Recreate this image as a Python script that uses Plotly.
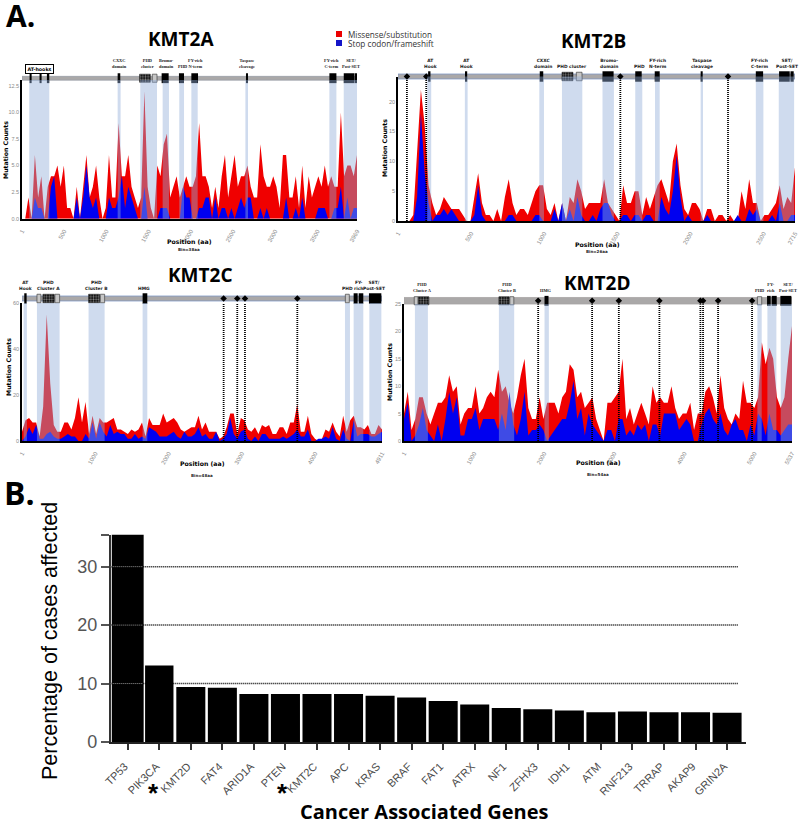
import numpy as np
import plotly.graph_objects as go

W, H = 800, 825

# ---- panel A data: mutation counts per bin ----
A_missense = [0,0,2,0,6,2,4,0,3,4,4,5,3,5,1,1,0,3,0,3,6,2,3,5,2,0,1,6,2,2,9,4,4,6,3,2,1,2,12,3,1,0,5,4,7,8,2,3,4,2,3,4,3,3,4,9,4,4,3,1,3,1,4,6,2,4,6,3,4,4,5,3,2,2,7,4,3,3,4,3,1,6,6,2,2,4,1,5,1,4,2,3,4,3,5,3,4,3,3,10,4,5,5,4,6]
A_stop = [0,0,0,0,2,1,1,0,0,3,4,0,0,0,0,0,0,2,0,2,5,2,1,2,0,0,0,2,1,1,2,4,1,3,2,1,0,0,3,0,0,0,0,1,1,1,0,0,0,0,3,2,2,0,0,1,1,2,2,0,2,0,1,1,0,1,0,1,2,1,2,2,0,0,1,0,1,0,0,0,0,0,2,0,0,1,0,2,0,0,0,0,1,1,1,0,0,1,1,3,0,2,0,1,1]
B_missense = [0,0,0,0,1,12,22,16,6,3,1,2,4,3,2,2,2,1,0,0,4,8,3,1,1,0,2,0,4,7,3,1,2,2,1,3,5,6,6,2,1,3,0,3,0,4,3,7,5,2,3,3,3,3,7,3,2,1,0,6,3,3,5,5,1,4,2,4,6,7,5,3,10,13,6,2,1,3,3,2,0,2,2,0,1,1,0,1,0,0,5,2,7,3,3,0,1,1,2,3,6,2,4,3,9]
B_stop = [0,0,0,0,0,4,18,8,3,0,1,1,2,1,2,1,0,0,0,0,1,6,1,0,0,0,0,0,0,1,1,0,0,0,0,0,1,1,0,0,0,2,0,3,0,2,0,4,1,0,0,1,0,2,3,3,1,0,0,1,1,0,1,1,0,1,1,0,0,4,2,1,5,11,4,0,1,0,0,0,0,1,0,0,0,0,0,0,0,1,0,0,2,1,2,0,0,0,1,0,3,0,0,1,1]
C_missense = [4,9,10,8,8,2,15,55,25,7,4,4,8,8,5,10,19,8,17,3,11,3,10,8,8,9,10,5,5,4,3,5,4,5,8,2,10,7,7,7,12,8,9,10,8,5,4,5,6,6,11,5,8,4,4,4,1,2,6,12,12,3,10,9,5,4,6,3,7,6,7,3,3,6,6,3,8,8,16,4,4,11,3,1,0,1,5,4,8,4,2,11,4,9,11,6,6,5,7,3,3,7,5]
C_stop = [0,2,6,3,7,1,1,3,4,2,1,1,2,3,2,2,0,0,3,1,8,1,8,4,2,7,3,4,3,3,1,1,3,1,2,1,6,5,4,2,2,2,3,4,2,1,4,2,2,3,6,2,3,1,1,4,0,1,3,10,3,1,4,5,1,0,2,0,3,3,1,1,1,1,2,1,2,3,5,2,2,5,0,0,1,1,2,1,6,1,0,5,1,0,9,2,3,3,3,2,2,3,4]
D_missense = [5,9,2,4,8,8,5,3,5,7,7,8,12,9,10,3,5,6,6,10,5,6,8,9,8,13,9,10,7,5,8,12,15,6,4,4,8,4,7,7,7,5,8,9,14,13,8,9,6,7,8,4,2,0,7,7,8,9,15,4,6,3,5,7,5,3,10,7,8,7,7,10,6,4,5,5,7,2,5,5,9,10,8,5,12,6,4,3,5,4,11,7,7,6,8,18,14,17,15,8,6,8,15,21]
D_stop = [4,7,0,1,3,6,2,1,0,3,0,4,9,5,8,1,1,4,4,6,2,4,4,4,4,2,5,2,9,3,1,4,9,1,2,2,3,2,0,1,2,3,4,4,7,11,4,6,1,5,3,2,1,0,2,2,0,4,4,1,2,1,3,2,3,0,3,3,1,5,5,5,5,2,3,4,3,0,0,3,5,6,4,3,5,2,1,3,4,2,2,0,3,1,5,4,1,5,2,2,1,2,3,3]

# protein lengths and axis ticks
A_ticks = [1,500,1000,1500,2000,2500,3000,3500,3969]
B_ticks = [1,500,1000,1500,2000,2500,2715]
C_ticks = [1,1000,2000,3000,4000,4911]
D_ticks = [1,1000,2000,3000,4000,5000,5537]
A_yticks = [0,2.5,5,7.5,10,12.5]
B_yticks = [0,5,10,15,20]
C_yticks = [0,20,40,60]
D_yticks = [0,5,10,15,20,25]

# protein domains, amino-acid start/end
A_bands = [(87,324),(1134,1169),(1402,1600),(1667,1742),(1864,1920),(2007,2082),(2647,2678),(3642,3725),(3812,3969)]
B_bands = [(201,228),(458,477),(967,999),(1122,1261),(1399,1477),(1623,1671),(1758,1790),(2070,2086),(2447,2499),(2604,2709)]
C_bands = [(23,68),(205,514),(909,1128),(1646,1710),(4406,4474),(4524,4656),(4738,4902)]
D_bands = [(157,342),(1355,1573),(2006,2068),(5043,5105),(5186,5314),(5376,5537)]
A_black = [(91,115),(209,233),(296,324),(1134,1165),(1655,1738),(1860,1920),(2007,2086),(2654,2678),(3642,3725),(3812,3938),(3942,3969)]
B_black = [(207,223),(461,474),(970,994),(1399,1475),(1623,1667),(1756,1790),(2070,2084),(2447,2497),(2606,2679),(2684,2706)]
C_black = [(32,64),(1646,1710),(4524,4579),(4593,4656),(4733,4902)]
D_black = [(2006,2063),(5181,5233),(5247,5319),(5371,5528)]
A_hatch = [(1394,1521)]
B_hatch = [(1122,1197)]
C_hatch = [(286,441),(909,1059)]
D_hatch = [(204,356),(1355,1502)]
A_grey = [(1544,1600)]
B_grey = [(1220,1259)]
C_grey = [(205,259),(450,514),(1069,1128),(4411,4465)]
D_grey = [(147,200),(1511,1568),(5043,5105)]
A_sites = []
B_sites = [62,194,1521,2257]
C_sites = [2751,2937,3042,3756]
D_sites = [1915,2685,3066,3645,4230,4268,4482,4967]

# domain captions
A_labels = [("CXXC<br>domain",119),("PHD<br>cluster",147),("Bromo-<br>domain",166),("PHD",182),("FY-rich<br>N-term",195),("Taspase<br>cleavage",247),("FY-rich<br>C-term",331),("SET/<br>Post-SET",351)]
B_labels = [("AT<br>Hook",431),("AT<br>Hook",466),("CXXC<br>domain",543),("PHD cluster",572),("Bromo-<br>domain",609),("PHD",639),("FY-rich<br>N-term",658),("Taspase<br>cleavage",702),("FY-rich<br>C-term",759),("SET/<br>Post-SET",787)]
C_labels = [("AT<br>Hook",25),("PHD<br>Cluster A",48),("PHD<br>Cluster B",96),("HMG",144),("PHD",347),("FY-<br>rich",358),("SET/<br>Post-SET",374)]
D_labels = [("PHD<br>Cluster A",422),("PHD<br>Cluster B",507),("HMG",546),("PHD",759),("FY-<br>rich",771),("SET/<br>Post-SET",788)]

# ---- panel B data ----
genes = ["TP53","PIK3CA","KMT2D","FAT4","ARID1A","PTEN","KMT2C","APC","KRAS","BRAF","FAT1","ATRX","NF1","ZFHX3","IDH1","ATM","RNF213","TRRAP","AKAP9","GRIN2A"]
percent = [35.5,13.1,9.4,9.3,8.2,8.2,8.2,8.2,7.9,7.6,7.0,6.4,5.8,5.6,5.4,5.1,5.2,5.1,5.1,5.0]
bar_widths = [1.01,0.9,0.92,0.92,0.92,0.92,0.92,0.92,0.92,0.92,0.92,0.92,0.92,0.92,0.92,0.92,0.92,0.92,0.92,0.92]
grid_levels = [10,20,30]

panels = [
    dict(name="KMT2A", miss=A_missense, stop=A_stop, ticks=A_ticks, yticks=A_yticks, bands=A_bands, black=A_black, hatch=A_hatch, grey=A_grey, sites=A_sites, labels=A_labels,
         x0=22, x1=357, y0=218.7, ytop=80, ymax=13.05, tfmt=".1f", ttop=73, tbot=83.5, trackw=0.72, label_y=71, title_xy=(181,39), xt=(189,241), bin="Bin=38aa", bin_y=250, yt=(5,150), edge="#9aa0a8", lfont="Liberation Serif"),
    dict(name="KMT2B", miss=B_missense, stop=B_stop, ticks=B_ticks, yticks=B_yticks, bands=B_bands, black=B_black, hatch=B_hatch, grey=B_grey, sites=B_sites, labels=B_labels,
         x0=398, x1=795, y0=221, ytop=76.5, ymax=24.2, tfmt="d", ttop=71, tbot=82, trackw=0.9, label_y=70.5, title_xy=(593,41), xt=(597,244), bin="Bin=26aa", bin_y=252, yt=(384,148), edge="#7f97c4", lfont="DejaVu Sans"),
    dict(name="KMT2C", miss=C_missense, stop=C_stop, ticks=C_ticks, yticks=C_yticks, bands=C_bands, black=C_black, hatch=C_hatch, grey=C_grey, sites=C_sites, labels=C_labels,
         x0=22, x1=382, y0=441, ytop=303, ymax=60, tfmt="d", ttop=293, tbot=304, trackw=0.9, label_y=293.5, title_xy=(201,275), xt=(202,464), bin="Bin=48aa", bin_y=475, yt=(8,367), edge="#7f97c4", lfont="DejaVu Sans"),
    dict(name="KMT2D", miss=D_missense, stop=D_stop, ticks=D_ticks, yticks=D_yticks, bands=D_bands, black=D_black, hatch=D_hatch, grey=D_grey, sites=D_sites, labels=D_labels,
         x0=404, x1=792, y0=441, ytop=304, ymax=25, tfmt="d", ttop=295.5, tbot=306, trackw=1.25, label_y=295, title_xy=(597,283), xt=(598,463), bin="Bin=54aa", bin_y=474, yt=(389,372), edge="#a8a4a4", lfont="Liberation Serif"),
]

RED, BLUE = "rgb(240,0,0)", "rgb(0,0,240)"
BAND = "rgba(145,172,216,0.435)"
GREYTXT = "#8a8a8a"

def px(v): return v / W
def py(v): return 1 - v / H

fig = go.Figure()
layout = {}
shapes, annos = [], []

def note(x, y, text, size, color="black", bold=False, family="Liberation Sans", angle=0, xanchor="center", yanchor="middle", **kw):
    if bold:
        text = "<b>" + text + "</b>"
    annos.append(dict(x=px(x), y=py(y), xref="paper", yref="paper", text=text, showarrow=False, textangle=angle,
                      xanchor=xanchor, yanchor=yanchor, align="center", font=dict(size=size, color=color, family=family), **kw))

for k, p in enumerate(panels):
    i = k + 1
    t = k + 5
    xa, ya, ta = ("x%d" % i).replace("x1", "x"), ("y%d" % i).replace("y1", "y"), "y%d" % t
    n = len(p["miss"])
    L = p["ticks"][-1]
    pos = np.linspace(1, L, n)
    fig.add_trace(go.Scatter(x=pos, y=p["miss"], xaxis=xa, yaxis=ya, mode="lines", line=dict(width=0, color=RED), fill="tozeroy", fillcolor=RED, showlegend=False, hoverinfo="skip"))
    fig.add_trace(go.Scatter(x=pos, y=p["stop"], xaxis=xa, yaxis=ya, mode="lines", line=dict(width=0, color=BLUE), fill="tozeroy", fillcolor=BLUE, showlegend=False, hoverinfo="skip"))
    for s in p["sites"]:
        fig.add_trace(go.Scatter(x=[s, s], y=[0, p["ymax"]], xaxis=xa, yaxis=ya, mode="lines", line=dict(color="black", width=1.8, dash="1px,1px"), showlegend=False, hoverinfo="skip", cliponaxis=False))
    fig.add_trace(go.Bar(y=[0], x=[L - 1], base=[1], width=[p["trackw"]], orientation="h", xaxis=xa, yaxis=ta,
                         marker=dict(color="#aaa8a8", line=dict(color=p["edge"], width=0.8)), showlegend=False, hoverinfo="skip"))
    def seg(items, marker, width):
        if items:
            st = [a for a, b in items]
            ln = [b - a for a, b in items]
            fig.add_trace(go.Bar(y=[0] * len(items), x=ln, base=st, width=[width] * len(items), orientation="h", xaxis=xa, yaxis=ta,
                                 marker=marker, showlegend=False, hoverinfo="skip"))
    seg(p["black"], dict(color="black", line=dict(width=0)), 1.9)
    seg(p["hatch"], dict(color="black", line=dict(color="black", width=0.5), pattern=dict(shape=".", fgcolor="white", bgcolor="black", size=2.6, solidity=0.45)), 1.55)
    seg(p["grey"], dict(color="#c8c8c8", line=dict(color="#444", width=0.7), pattern=dict(shape="-", fgcolor="#666", bgcolor="#ddd", size=2, solidity=0.4)), 1.55)
    if p["sites"]:
        fig.add_trace(go.Scatter(x=p["sites"], y=[0] * len(p["sites"]), xaxis=xa, yaxis=ta, mode="markers",
                                 marker=dict(symbol="diamond", size=5, color="black"), showlegend=False, hoverinfo="skip"))
    dom = [px(p["x0"]), px(p["x1"])]
    layout["xaxis" if i == 1 else "xaxis%d" % i] = dict(
        domain=dom, range=[1, L], anchor=ya, tickmode="array", tickvals=p["ticks"], ticktext=[str(v) for v in p["ticks"]],
        tickangle=-60, tickfont=dict(size=6, color=GREYTXT, family="Liberation Sans"), showgrid=False, zeroline=False,
        showline=True, linecolor="black", linewidth=1.5, ticks="outside", ticklen=5, tickwidth=0.5, tickcolor="rgba(0,0,0,0)", fixedrange=True)
    layout["yaxis" if i == 1 else "yaxis%d" % i] = dict(
        domain=[py(p["y0"]), py(p["ytop"])], range=[0, p["ymax"]], anchor=xa, tickmode="array", tickvals=p["yticks"],
        tickformat=p["tfmt"], tickfont=dict(size=5.5, color=GREYTXT, family="Liberation Sans"), showgrid=False, zeroline=False,
        showline=True, linecolor="black", linewidth=1.5, ticks="", fixedrange=True)
    layout["yaxis%d" % t] = dict(domain=[py(p["tbot"]), py(p["ttop"])], range=[-1, 1], anchor=xa, visible=False, fixedrange=True)
    for a, b in p["bands"]:
        shapes.append(dict(type="rect", xref=xa, yref="paper", x0=a, x1=b, y0=py(p["y0"]), y1=py(p["ytop"]), fillcolor=BAND, line=dict(width=0), layer="above"))
    note(p["title_xy"][0], p["title_xy"][1], p["name"], 19, bold=True, family="Open Sans")
    note(p["xt"][0], p["xt"][1], "Position (aa)", 6.2, bold=True, family="DejaVu Sans")
    note(p["xt"][0], p["bin_y"], p["bin"], 4, bold=True, family="DejaVu Sans", color="#222")
    note(p["yt"][0], p["yt"][1], "Mutation Counts", 6.2, bold=True, family="DejaVu Sans", angle=-90)
    for txt, lx in p["labels"]:
        note(lx, p["label_y"], txt, 4.4, bold=True, family=p["lfont"], color="#222", yanchor="bottom")

note(39.5, 69, "AT-hooks", 4.8, bold=True, family="DejaVu Sans", bgcolor="white", bordercolor="black", borderwidth=1, borderpad=1.5)

# legend
shapes.append(dict(type="rect", xref="paper", yref="paper", x0=px(336), x1=px(342), y0=py(37), y1=py(31), fillcolor="rgb(235,0,0)", line=dict(width=0)))
shapes.append(dict(type="rect", xref="paper", yref="paper", x0=px(336), x1=px(342), y0=py(46), y1=py(40), fillcolor="rgb(20,20,200)", line=dict(width=0)))
note(346, 34.5, "Missense/substitution", 8.2, color="#333", family="Open Sans", xanchor="left")
note(346, 43, "Stop codon/frameshift", 8.2, color="#333", family="Open Sans", xanchor="left")

# panel letters
note(4, 15, "A.", 30, bold=True, family="Open Sans", xanchor="left")
note(2, 493, "B.", 32, bold=True, family="Open Sans", xanchor="left")

# ---- panel B ----
fig.add_trace(go.Bar(x=genes, y=percent, width=bar_widths, marker=dict(color="black", line=dict(width=0)), xaxis="x9", yaxis="y9", showlegend=False, hoverinfo="skip"))
layout["xaxis9"] = dict(domain=[px(110.7), px(746)], range=[-0.54, 19.6], anchor="y9", type="category", categoryorder="array", categoryarray=genes,
                        tickangle=-45, tickfont=dict(size=11, color="#4a4a4a", family="Liberation Sans"), showgrid=False, zeroline=False,
                        showline=True, linecolor="#222", linewidth=1.5, ticks="outside", ticklen=6, tickwidth=2, tickcolor="#333",
                        ticklabelstandoff=6, ticklabelshift=-3, fixedrange=True)
layout["yaxis9"] = dict(domain=[py(742), py(534.5)], range=[0, 35.5], anchor="x9", tickmode="array", tickvals=[0,10,20,30,35.5], ticktext=["0","10","20","30",""],
                        tickfont=dict(size=18, color="#555", family="Liberation Sans"), showgrid=False, zeroline=False,
                        showline=True, linecolor="#333", linewidth=1.5, ticks="outside", ticklen=8, tickwidth=2, tickcolor="#555", fixedrange=True)
for lv in grid_levels:
    shapes.append(dict(type="line", xref="paper", yref="y9", x0=px(110.7), x1=px(738), y0=lv, y1=lv, line=dict(color="black", width=1.5, dash="1px,1px"), layer="below"))
    shapes.append(dict(type="line", xref="paper", yref="y9", x0=px(110.7), x1=px(143), y0=lv, y1=lv, line=dict(color="#999", width=1, dash="1px,1px"), layer="above"))
note(50, 641, "Percentage of cases affected", 21.5, family="Liberation Sans", angle=-90)
note(423.5, 811, "Cancer Associated Genes", 20, bold=True, family="Open Sans")
note(153, 793, "*", 26, bold=True)
note(282, 793, "*", 26, bold=True)

layout.update(width=W, height=H, margin=dict(l=0, r=0, t=0, b=0, autoexpand=False), paper_bgcolor="white", plot_bgcolor="rgba(0,0,0,0)",
              barmode="overlay", shapes=shapes, annotations=annos, showlegend=False)
fig.update_layout(**layout)
fig.write_html("out.html", post_script="document.body.style.margin='0';", config={"displayModeBar": False})
